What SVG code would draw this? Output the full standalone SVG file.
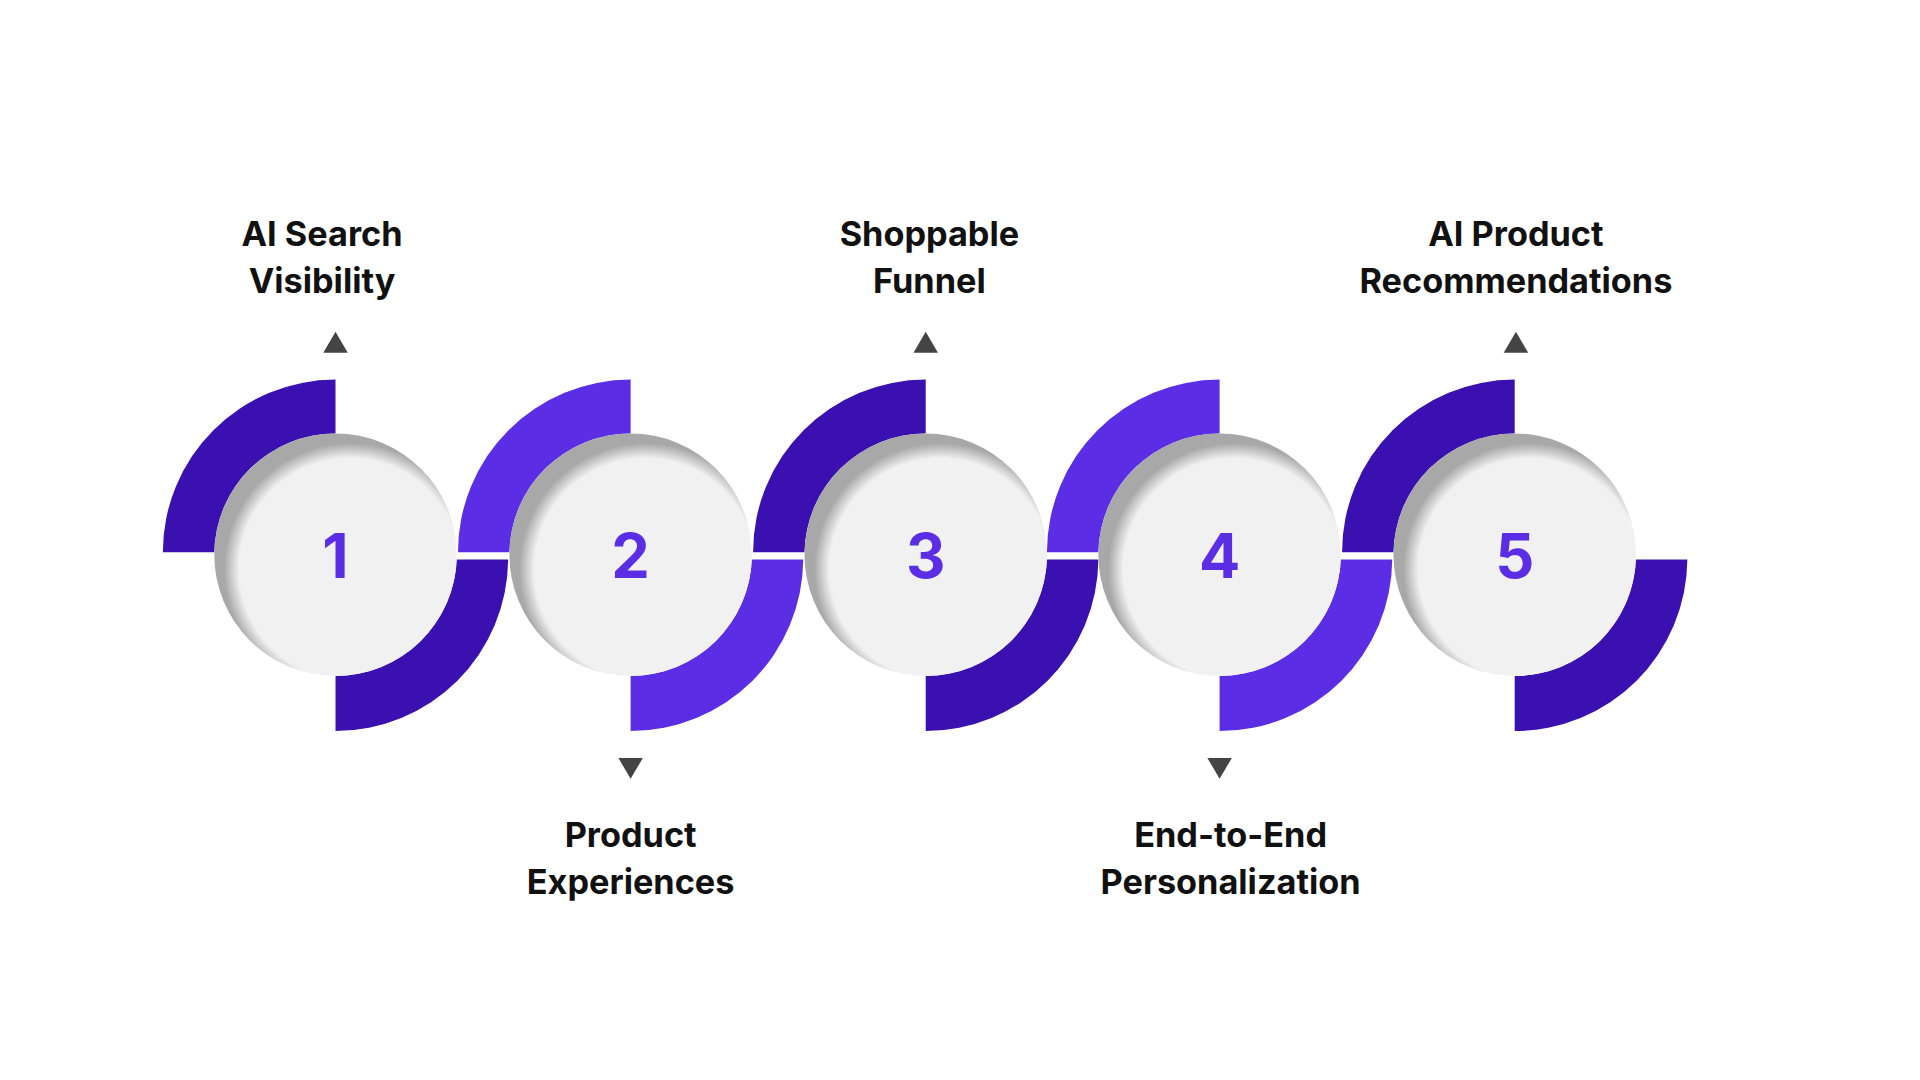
<svg xmlns="http://www.w3.org/2000/svg" width="1920" height="1080" viewBox="0 0 1920 1080">
<style>
.dark{fill:#3a10b0}.light{fill:#5b2ee6}
.disc{fill:#f1f1f1}
.num{font-family:Inter,"Liberation Sans",sans-serif;font-weight:700;font-size:50px;fill:#5b2ee6;text-anchor:middle}
.lbl{font-family:Inter,"Liberation Sans",sans-serif;font-weight:700;font-size:28px;fill:#111;text-anchor:middle}
.tri{fill:#444}
</style>
<defs>
<radialGradient id="g" cx="0.56" cy="0.56" r="0.52">
<stop offset="0.88" stop-color="#f1f1f1"/><stop offset="1" stop-color="#a8a8a8"/>
</radialGradient>
<path id="tl" d="M-141,-2 A141,141 0 0 1 0,-143 L0,-99 A99,99 0 0 0 -99,-2 Z"/>
<path id="br" d="M141,4 A141,141 0 0 1 0,144 L0,99 A99,99 0 0 0 99,4 Z"/>
</defs>
<rect width="1920" height="1080" fill="#fff"/>
<g transform="scale(1.2245)">
<g id="node1" transform="translate(274,453)"><use href="#tl" class="dark"/><use href="#br" class="dark"/><circle r="99" fill="url(#g)"/><text class="num" y="19">1</text></g>
<g id="node2" transform="translate(515,453)"><use href="#tl" class="light"/><use href="#br" class="light"/><circle r="99" fill="url(#g)"/><text class="num" y="19">2</text></g>
<g id="node3" transform="translate(756,453)"><use href="#tl" class="dark"/><use href="#br" class="dark"/><circle r="99" fill="url(#g)"/><text class="num" y="19">3</text></g>
<g id="node4" transform="translate(996,453)"><use href="#tl" class="light"/><use href="#br" class="light"/><circle r="99" fill="url(#g)"/><text class="num" y="19">4</text></g>
<g id="node5" transform="translate(1237,453)"><use href="#tl" class="dark"/><use href="#br" class="dark"/><circle r="99" fill="url(#g)"/><text class="num" y="19">5</text></g>
<g id="connectors">
<polygon class="tri" points="264,288 284,288 274,271"/>
<polygon class="tri" points="746,288 766,288 756,271"/>
<polygon class="tri" points="1228,288 1248,288 1238,271"/>
<polygon class="tri" points="505,619 525,619 515,636"/>
<polygon class="tri" points="986,619 1006,619 996,636"/>
</g>
<g id="labels">
<text class="lbl" x="263" y="201">AI Search</text><text class="lbl" x="263" y="239">Visibility</text>
<text class="lbl" x="759" y="201">Shoppable</text><text class="lbl" x="759" y="239">Funnel</text>
<text class="lbl" x="1238" y="201">AI Product</text><text class="lbl" x="1238" y="239">Recommendations</text>
<text class="lbl" x="515" y="692">Product</text><text class="lbl" x="515" y="730">Experiences</text>
<text class="lbl" x="1005" y="692">End-to-End</text><text class="lbl" x="1005" y="730">Personalization</text>
</g>
</g>
</svg>
